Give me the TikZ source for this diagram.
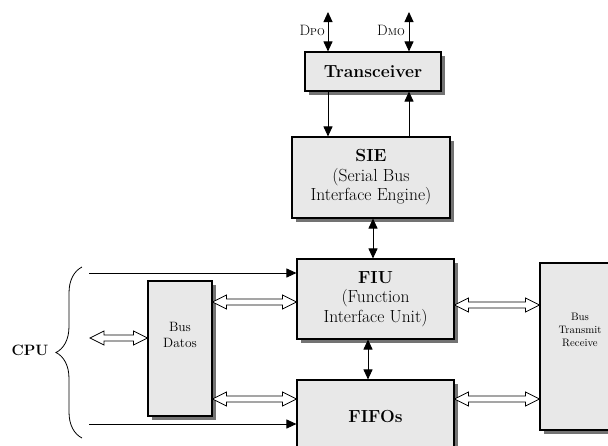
\documentclass[tikz,border=0pt]{standalone}
\usetikzlibrary{arrows.meta,shadows,calc,decorations.pathreplacing}

\tikzset{
  blockbox/.style={draw=black, line width=1.1pt, fill=gray!18,
    drop shadow={shadow xshift=3.5pt, shadow yshift=-3.5pt, fill=black!55, opacity=1},
    align=center, inner sep=0pt},
  bigtext/.style={font=\fontsize{17.5}{19.5}\selectfont},
  wire/.style={line width=0.9pt},
  tip/.style={-{Triangle[length=10pt,width=9pt]}},
  tips/.style={{Triangle[length=10pt,width=9pt]}-{Triangle[length=10pt,width=9pt]}},
}

% hollow double-headed bus arrow between two points on the same row
\newcommand\busarrow[2]{%
  \draw[line width=0.8pt, fill=white, line join=miter] let \p1=(#1), \p2=(#2) in
    (\x1,\y1) -- (\x1+14pt,\y1+7pt) -- (\x1+14pt,\y1+3pt) -- (\x2-14pt,\y2+3pt)
    -- (\x2-14pt,\y2+7pt) -- (\x2,\y2) -- (\x2-14pt,\y2-7pt) -- (\x2-14pt,\y2-3pt)
    -- (\x1+14pt,\y1-3pt) -- (\x1+14pt,\y1-7pt) -- cycle;}

\begin{document}
\begin{tikzpicture}[x=1pt, y=-1pt]
  \useasboundingbox (0,0) rectangle (608,445);
  \clip (0,0) rectangle (608,445);

  % blocks
  \node[blockbox, bigtext, minimum width=136pt, minimum height=39pt] (trans) at (373,71.5) {\bfseries Transceiver};
  \node[blockbox, bigtext, minimum width=158pt, minimum height=81pt] (sie) at (371,177.5) {\bfseries SIE\\(Serial Bus\\Interface Engine)};
  \node[blockbox, bigtext, minimum width=157pt, minimum height=80pt] (fiu) at (375.5,299) {\bfseries FIU\\(Function\\Interface Unit)};
  \node[blockbox, bigtext, minimum width=157pt, minimum height=72pt] (fifo) at (375.5,416) {\bfseries FIFOs};
  \node[blockbox, minimum width=64pt, minimum height=135pt] (datos) at (180,348.5) {};
  \node[font=\fontsize{13.5}{15.5}\selectfont, align=center] (datostext) at (180,335) {Bus\\Datos};
  \node[blockbox, minimum width=84pt, minimum height=167pt] (btr) at (582,346.5) {};
  \node[font=\fontsize{10.8}{13}\selectfont, align=center] (btrtext) at (580,330) {Bus\\Transmit\\Receive};

  % external data lines
  \coordinate (dpo) at (328,12);
  \coordinate (dmo) at (409,12);
  \draw[wire, tips] (dpo) -- (dpo |- trans.north);
  \draw[wire, tips] (dmo) -- (dmo |- trans.north);
  \node[anchor=base east, font=\fontsize{15}{15}\selectfont, inner sep=0pt] (dpolabel) at (325,35)
    {D{\fontsize{10}{10}\selectfont PO}};
  \node[anchor=base east, font=\fontsize{15}{15}\selectfont, inner sep=0pt] (dmolabel) at (405,35)
    {D{\fontsize{10}{10}\selectfont MO}};

  % vertical links
  \draw[wire, tip] (dpo |- trans.south) -- (dpo |- sie.north);
  \draw[wire, tip] (dmo |- sie.north) -- (dmo |- trans.south);
  \coordinate (sf) at (373,0);
  \draw[wire, tips] (sf |- sie.south) -- (sf |- fiu.north);
  \coordinate (ff) at (368,0);
  \draw[wire, tips] (ff |- fiu.south) -- (ff |- fifo.north);

  % CPU control lines
  \coordinate (ctop) at (89,273);
  \coordinate (cbot) at (89,424);
  \draw[wire, tip] (ctop) -- (ctop -| fiu.west);
  \draw[wire, tip] (cbot) -- (cbot -| fifo.west);

  % bus arrows
  \coordinate (cpubus) at (90,338);
  \busarrow{cpubus}{cpubus -| datos.west}
  \coordinate (r1) at (0,302);
  \busarrow{r1 -| datos.east}{r1 -| fiu.west}
  \coordinate (r2) at (0,399);
  \busarrow{r2 -| datos.east}{r2 -| fifo.west}
  \coordinate (r3) at (0,305);
  \busarrow{r3 -| fiu.east}{r3 -| btr.west}
  \coordinate (r4) at (0,399);
  \busarrow{r4 -| fifo.east}{r4 -| btr.west}

  % CPU brace
  \coordinate (bt) at (82,267);
  \coordinate (bb) at (82,438);
  \draw[line width=0.8pt, decorate, decoration={brace, amplitude=26pt, aspect=0.5}] (bb) -- (bt);
  \node[anchor=base, font=\fontsize{15}{15}\selectfont\bfseries] (cpu) at (30,355) {CPU};
\end{tikzpicture}
\end{document}
